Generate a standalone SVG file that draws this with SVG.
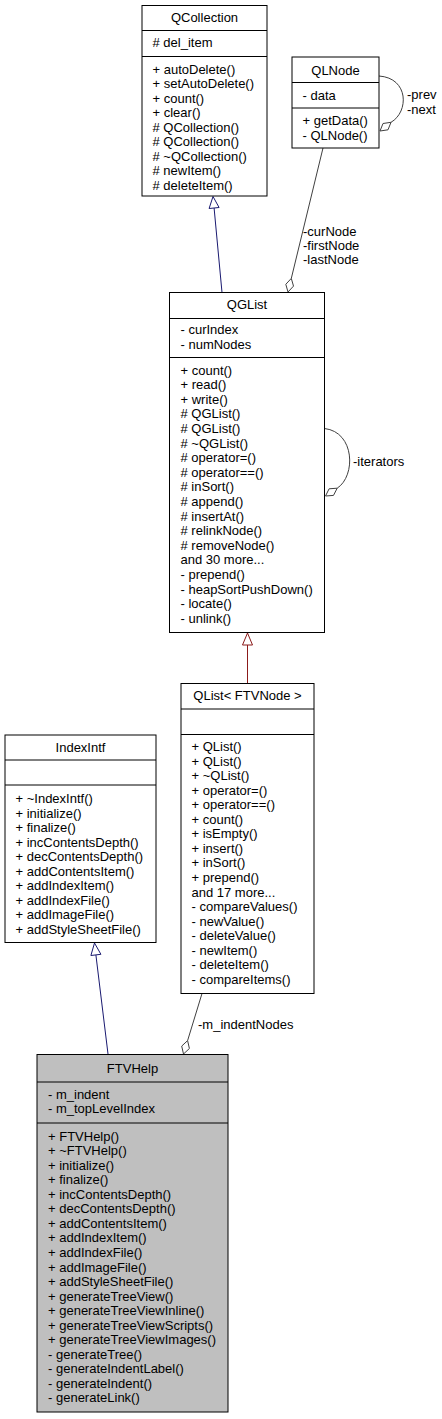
<svg xmlns="http://www.w3.org/2000/svg" width="442" height="1419" viewBox="0 0 442 1419">
<style>
text{font-family:"Liberation Sans",Arial,sans-serif;font-size:13px;fill:#000}
.t{text-anchor:middle}
.box{fill:#fff;stroke:#000;stroke-width:1}
.cur{fill:#bfbfbf;stroke:#000;stroke-width:1}
.sep{stroke:#000;stroke-width:1}
.inhB{fill:none;stroke:#191970;stroke-width:1}
.inhR{fill:none;stroke:#8b1a1a;stroke-width:1}
.use{fill:none;stroke:#404040;stroke-width:1}
.headB{fill:#fff;stroke:#191970;stroke-width:1}
.headR{fill:#fff;stroke:#8b1a1a;stroke-width:1}
.dia{fill:#fff;stroke:#404040;stroke-width:1}
</style>
<rect width="442" height="1419" fill="#fff"/>
<g id="connectors">
<path class="inhB" d="M222,292.5 L214.1,208"/>
<polygon class="headB" points="213,196.5 219.1,207.5 209.1,208.5"/>
<path class="use" d="M323,148 L291.3,278.4"/>
<polygon class="dia" points="288,292 293.5,286.1 291.3,278.4 285.8,284.3"/>
<text x="303" y="236">-curNode</text>
<text x="303" y="250">-firstNode</text>
<text x="303" y="264">-lastNode</text>
<path class="use" d="M379,76 C409,78 409,112 391,122.3"/>
<polygon class="dia" points="380,131 388,129.8 391,122.3 383,123.5"/>
<text x="407" y="99">-prev</text>
<text x="407" y="113.5">-next</text>
<path class="use" d="M324.5,428.5 C355,432 356,476 337.2,488.2"/>
<polygon class="dia" points="325.5,496 333.5,495.4 337.2,488.2 329.1,488.8"/>
<text x="353" y="466">-iterators</text>
<path class="inhR" d="M247.5,683.5 L247.5,645"/>
<polygon class="headR" points="247.5,633 252.5,645 242.5,645"/>
<path class="inhB" d="M108,1054 L95.9,954.9"/>
<polygon class="headB" points="94.5,943 100.9,954.3 90.9,955.5"/>
<path class="use" d="M202,993.5 L187.6,1040.6"/>
<polygon class="dia" points="183.5,1054 189.4,1048.5 187.6,1040.6 181.7,1046.1"/>
<text x="198" y="1029">-m_indentNodes</text>
</g>
<g id="QCollection">
<rect class="box" x="142" y="5.5" width="125" height="190.5"/>
<text class="t" x="204.5" y="22">QCollection</text>
<line class="sep" x1="142" y1="30.5" x2="267" y2="30.5"/>
<text x="152.5" y="47"># del_item</text>
<line class="sep" x1="142" y1="56.5" x2="267" y2="56.5"/>
<text x="152.5" y="73.5">+ autoDelete()</text>
<text x="152.5" y="88">+ setAutoDelete()</text>
<text x="152.5" y="102.5">+ count()</text>
<text x="152.5" y="117">+ clear()</text>
<text x="152.5" y="131.5"># QCollection()</text>
<text x="152.5" y="146"># QCollection()</text>
<text x="152.5" y="160.5"># ~QCollection()</text>
<text x="152.5" y="175"># newItem()</text>
<text x="152.5" y="189.5"># deleteItem()</text>
</g>
<g id="QLNode">
<rect class="box" x="292" y="57" width="87" height="91"/>
<text class="t" x="335.5" y="74.5">QLNode</text>
<line class="sep" x1="292" y1="82.5" x2="379" y2="82.5"/>
<text x="302.5" y="99.5">- data</text>
<line class="sep" x1="292" y1="108" x2="379" y2="108"/>
<text x="302.5" y="125">+ getData()</text>
<text x="302.5" y="139.5">- QLNode()</text>
</g>
<g id="QGList">
<rect class="box" x="169.5" y="292.5" width="155" height="340"/>
<text class="t" x="247" y="309">QGList</text>
<line class="sep" x1="169.5" y1="318.5" x2="324.5" y2="318.5"/>
<text x="180.5" y="334">- curIndex</text>
<text x="180.5" y="348.5">- numNodes</text>
<line class="sep" x1="169.5" y1="357.5" x2="324.5" y2="357.5"/>
<text x="180.5" y="374.5">+ count()</text>
<text x="180.5" y="389.1">+ read()</text>
<text x="180.5" y="403.7">+ write()</text>
<text x="180.5" y="418.3"># QGList()</text>
<text x="180.5" y="432.9"># QGList()</text>
<text x="180.5" y="447.5"># ~QGList()</text>
<text x="180.5" y="462.1"># operator=()</text>
<text x="180.5" y="476.7"># operator==()</text>
<text x="180.5" y="491.3"># inSort()</text>
<text x="180.5" y="505.9"># append()</text>
<text x="180.5" y="520.5"># insertAt()</text>
<text x="180.5" y="535.1"># relinkNode()</text>
<text x="180.5" y="549.7"># removeNode()</text>
<text x="180.5" y="564.3">and 30 more...</text>
<text x="180.5" y="578.9">- prepend()</text>
<text x="180.5" y="593.5">- heapSortPushDown()</text>
<text x="180.5" y="608.1">- locate()</text>
<text x="180.5" y="622.7">- unlink()</text>
</g>
<g id="QList_FTVNode">
<rect class="box" x="181" y="683.5" width="133" height="310"/>
<text class="t" x="247.5" y="700">QList&lt; FTVNode &gt;</text>
<line class="sep" x1="181" y1="709" x2="314" y2="709"/>
<line class="sep" x1="181" y1="734.5" x2="314" y2="734.5"/>
<text x="191.5" y="751">+ QList()</text>
<text x="191.5" y="765.6">+ QList()</text>
<text x="191.5" y="780.1">+ ~QList()</text>
<text x="191.5" y="794.7">+ operator=()</text>
<text x="191.5" y="809.2">+ operator==()</text>
<text x="191.5" y="823.8">+ count()</text>
<text x="191.5" y="838.3">+ isEmpty()</text>
<text x="191.5" y="852.9">+ insert()</text>
<text x="191.5" y="867.4">+ inSort()</text>
<text x="191.5" y="882">+ prepend()</text>
<text x="191.5" y="896.5">and 17 more...</text>
<text x="191.5" y="911.1">- compareValues()</text>
<text x="191.5" y="925.6">- newValue()</text>
<text x="191.5" y="940.2">- deleteValue()</text>
<text x="191.5" y="954.7">- newItem()</text>
<text x="191.5" y="969.3">- deleteItem()</text>
<text x="191.5" y="983.8">- compareItems()</text>
</g>
<g id="IndexIntf">
<rect class="box" x="5" y="735" width="151" height="207.5"/>
<text class="t" x="80.5" y="751.5">IndexIntf</text>
<line class="sep" x1="5" y1="760" x2="156" y2="760"/>
<line class="sep" x1="5" y1="785" x2="156" y2="785"/>
<text x="15.5" y="803">+ ~IndexIntf()</text>
<text x="15.5" y="817.6">+ initialize()</text>
<text x="15.5" y="832.1">+ finalize()</text>
<text x="15.5" y="846.7">+ incContentsDepth()</text>
<text x="15.5" y="861.2">+ decContentsDepth()</text>
<text x="15.5" y="875.8">+ addContentsItem()</text>
<text x="15.5" y="890.3">+ addIndexItem()</text>
<text x="15.5" y="904.9">+ addIndexFile()</text>
<text x="15.5" y="919.4">+ addImageFile()</text>
<text x="15.5" y="934">+ addStyleSheetFile()</text>
</g>
<g id="FTVHelp">
<rect class="cur" x="37" y="1054.5" width="191" height="357.5"/>
<text class="t" x="132.5" y="1072.5">FTVHelp</text>
<line class="sep" x1="37" y1="1082" x2="228" y2="1082"/>
<text x="48" y="1098.5">- m_indent</text>
<text x="48" y="1113">- m_topLevelIndex</text>
<line class="sep" x1="37" y1="1123" x2="228" y2="1123"/>
<text x="48" y="1140.5">+ FTVHelp()</text>
<text x="48" y="1155.1">+ ~FTVHelp()</text>
<text x="48" y="1169.6">+ initialize()</text>
<text x="48" y="1184.2">+ finalize()</text>
<text x="48" y="1198.7">+ incContentsDepth()</text>
<text x="48" y="1213.3">+ decContentsDepth()</text>
<text x="48" y="1227.8">+ addContentsItem()</text>
<text x="48" y="1242.4">+ addIndexItem()</text>
<text x="48" y="1256.9">+ addIndexFile()</text>
<text x="48" y="1271.5">+ addImageFile()</text>
<text x="48" y="1286">+ addStyleSheetFile()</text>
<text x="48" y="1300.6">+ generateTreeView()</text>
<text x="48" y="1315.1">+ generateTreeViewInline()</text>
<text x="48" y="1329.7">+ generateTreeViewScripts()</text>
<text x="48" y="1344.2">+ generateTreeViewImages()</text>
<text x="48" y="1358.8">- generateTree()</text>
<text x="48" y="1373.3">- generateIndentLabel()</text>
<text x="48" y="1387.9">- generateIndent()</text>
<text x="48" y="1402.4">- generateLink()</text>
</g>
</svg>
